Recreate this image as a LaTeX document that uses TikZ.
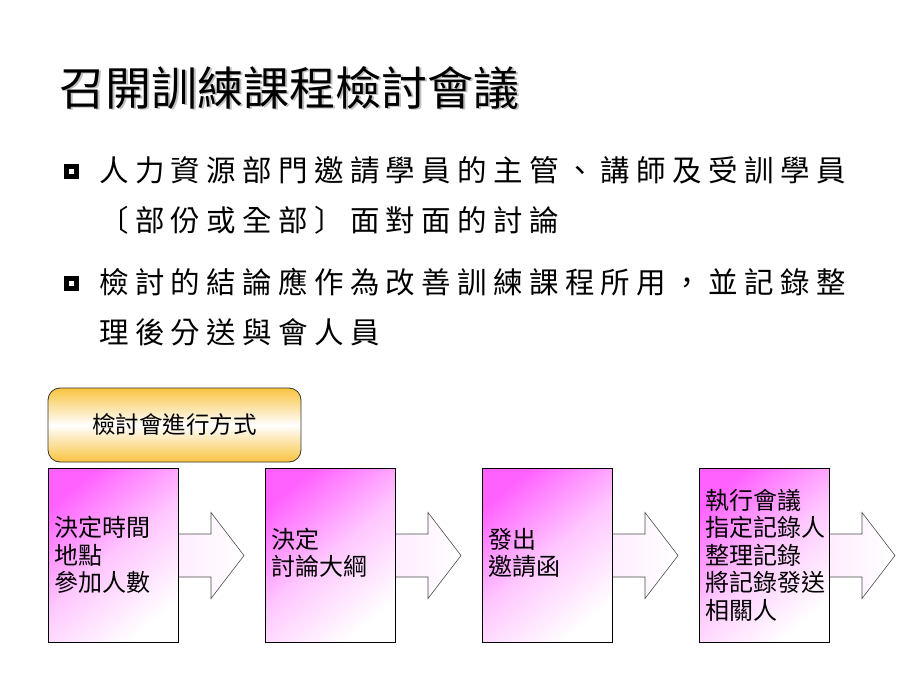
\documentclass[tikz,border=0pt]{standalone}
\usepackage{fontspec}
\setmainfont{Noto Sans CJK TC}
\definecolor{gold}{RGB}{248,196,64}
\begin{document}
\begin{tikzpicture}[x=1pt,y=-1pt,
  titlefont/.style={font=\fontsize{46}{52}\selectfont},
  bullettext/.style={anchor=west,inner sep=0pt,font=\fontsize{29.5}{34}\selectfont\addfontfeature{LetterSpace=21.5}},
  bulletmark/.style={fill=black,minimum width=15pt,minimum height=15pt,inner sep=0pt},
  stepbox/.style={draw=black,line width=0.8pt,minimum width=130pt,minimum height=174pt,inner sep=0pt,
    shading=axis,top color=magenta!62!white,bottom color=white,middle color=magenta!22!white,shading angle=40},
  steptext/.style={anchor=west,align=left,inner sep=0pt,font=\fontsize{24}{27.5}\selectfont},
  arrowshape/.style={draw=black!70,line width=0.6pt,left color=magenta!7!white,right color=white},
  headbox/.style={draw=black!80,line width=0.8pt,rounded corners=12pt,minimum width=253pt,minimum height=74pt,
    shading=axis,top color=gold,bottom color=gold,middle color=white}
]
\useasboundingbox (0,0) rectangle (920,690);
% title
\node[titlefont,anchor=west,text=black!25] (titleshadow) at (57.5,89.5) {召開訓練課程檢討會議};
\node[titlefont,anchor=west] (title) at (56,88) {召開訓練課程檢討會議};
% bullets
\node[bulletmark] (m1) at (71,171) {};
\node[fill=white,minimum size=5pt,inner sep=0pt] (m1c) at (m1) {};
\node[bullettext] (l1) at (99,170) {人力資源部門邀請學員的主管、講師及受訓學員};
\node[bullettext] (l2) at (99,220) {〔部份或全部〕面對面的討論};
\node[bulletmark] (m2) at (71,283) {};
\node[fill=white,minimum size=5pt,inner sep=0pt] (m2c) at (m2) {};
\node[bullettext] (l3) at (99,282) {檢討的結論應作為改善訓練課程所用，並記錄整};
\node[bullettext] (l4) at (99,332) {理後分送與會人員};
% header box
\node[headbox,font=\fontsize{23.5}{26}\selectfont] (hb) at (174.5,425) {檢討會進行方式};
% step boxes
\foreach \i/\x in {1/113,2/330,3/547,4/764}{
  \draw[arrowshape,shift={(\x+65,555.5)}] (0,-21.5) -- (33,-21.5) -- (33,-43) -- (66,0) -- (33,43) -- (33,21.5) -- (0,21.5);
  \node[stepbox] (b\i) at (\x,555) {};
}
\node[steptext] (t1) at ([xshift=7pt,yshift=0pt]b1.west) {決定時間\\地點\\參加人數};
\node[steptext] (t2) at ([xshift=7pt,yshift=2pt]b2.west) {決定\\討論大綱};
\node[steptext] (t3) at ([xshift=7pt,yshift=2pt]b3.west) {發出\\邀請函};
\node[steptext] (t4) at ([xshift=7pt,yshift=0pt]b4.west) {執行會議\\指定記錄人\\整理記錄\\將記錄發送\\相關人};
\end{tikzpicture}
\end{document}
